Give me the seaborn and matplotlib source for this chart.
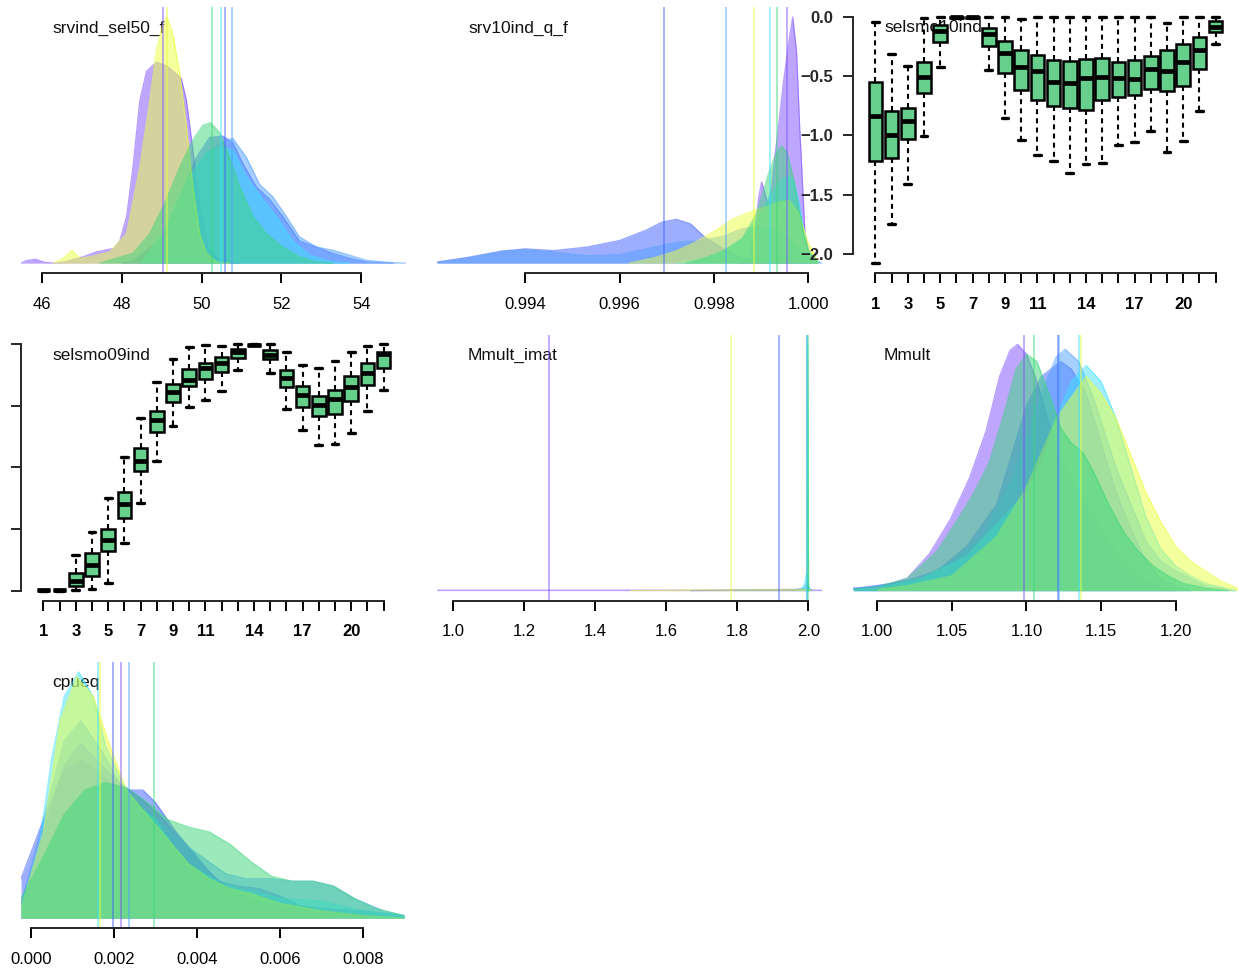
import matplotlib
matplotlib.use("Agg")
import matplotlib.pyplot as plt
import numpy as np
import pandas as pd
import seaborn as sns

sns.set_style("ticks")
plt.rcParams["font.family"] = ["Liberation Sans", "DejaVu Sans"]

# ---------------------------------------------------------------- series
SERIES = ["m1", "m2", "m3", "m4", "m5", "m6"]
DRAW_ORDER = ["m1", "m2", "m3", "m4", "m6", "m5"]
COLORS = {
    "m1": "#7f4fff",   # purple
    "m2": "#3f5fff",   # blue
    "m3": "#50a0ff",   # light blue
    "m4": "#40e0ff",   # cyan
    "m5": "#3ad67a",   # green
    "m6": "#ebff3c",   # yellow
}
BOX_FILL = "#66cf8c"

# ---------------------------------------------------------------- srvind_sel50_f
SEL50 = {
    "m1": ([45.47, 45.6, 45.83, 46.05, 46.3, 46.6, 47.03, 47.37, 47.8, 47.95, 48.12, 48.28, 48.45, 48.62,
            48.87, 49.12, 49.28, 49.49, 49.62, 49.78, 49.95, 50.16, 50.37, 50.7, 50.95],
           [0.0, 0.01, 0.016, 0.004, 0.0, 0.006, 0.026, 0.046, 0.06, 0.09, 0.19, 0.39, 0.66, 0.78,
            0.816, 0.80, 0.78, 0.75, 0.66, 0.46, 0.23, 0.066, 0.02, 0.012, 0.0]),
    "m2": ([48.0, 48.28, 48.95, 49.45, 49.87, 50.2, 50.53, 50.78, 51.03, 51.37, 51.7, 52.03, 52.45,
            52.87, 53.28, 53.7, 54.12, 54.8],
           [0.0, 0.01, 0.09, 0.26, 0.43, 0.51, 0.516, 0.49, 0.405, 0.31, 0.26, 0.19, 0.09,
            0.066, 0.04, 0.02, 0.005, 0.0]),
    "m3": ([48.4, 49.12, 49.62, 50.12, 50.62, 50.78, 51.12, 51.45, 51.78, 52.12, 52.45, 52.87, 53.28,
            53.7, 54.12, 54.7, 55.12],
           [0.0, 0.12, 0.31, 0.45, 0.5, 0.507, 0.43, 0.32, 0.27, 0.19, 0.107, 0.066, 0.053,
            0.033, 0.012, 0.003, 0.0]),
    "m4": ([48.5, 49.12, 49.62, 50.12, 50.45, 50.78, 51.12, 51.53, 51.87, 52.28, 52.7, 53.28, 53.7],
           [0.0, 0.15, 0.34, 0.45, 0.47, 0.46, 0.35, 0.26, 0.19, 0.09, 0.033, 0.005, 0.0]),
    "m5": ([47.45, 48.28, 48.7, 49.12, 49.45, 49.78, 50.03, 50.22, 50.45, 50.7, 50.95, 51.28, 51.62,
            52.03, 52.45, 52.87, 53.3],
           [0.0, 0.04, 0.12, 0.26, 0.39, 0.5, 0.56, 0.57, 0.53, 0.43, 0.31, 0.19, 0.12,
            0.066, 0.026, 0.005, 0.0]),
    "m6": ([46.28, 46.53, 46.74, 46.95, 47.2, 47.7, 48.12, 48.45, 48.7, 48.87, 49.03, 49.13, 49.28,
            49.45, 49.62, 49.78, 49.95, 50.12, 50.37, 50.7],
           [0.0, 0.02, 0.053, 0.02, 0.026, 0.046, 0.12, 0.39, 0.66, 0.87, 0.97, 1.0, 0.93,
            0.77, 0.55, 0.31, 0.12, 0.04, 0.005, 0.0]),
}
SEL50_MED = {"m1": 49.04, "m2": 50.59, "m3": 50.75, "m4": 50.49, "m5": 50.25, "m6": 49.14}

# ---------------------------------------------------------------- srv10ind_q_f
Q10 = {
    "m1": ([0.9985, 0.99875, 0.99888, 0.99895, 0.99901, 0.99907, 0.99914, 0.99922, 0.9993, 0.99936,
            0.99947, 0.99958, 0.99967, 0.99975, 0.99982, 0.99986, 0.99993, 1.00004, 1.0002],
           [0.0, 0.03, 0.14, 0.27, 0.33, 0.29, 0.24, 0.3, 0.45, 0.54,
            0.73, 0.89, 1.0, 0.86, 0.54, 0.39, 0.12, 0.02, 0.0]),
    "m2": ([0.99213, 0.9928, 0.9935, 0.994, 0.9946, 0.9953, 0.996, 0.99655, 0.9969, 0.9972, 0.9975,
            0.9978, 0.9982, 0.99855, 0.999, 0.9995, 1.0],
           [0.004, 0.024, 0.049, 0.058, 0.051, 0.065, 0.092, 0.133, 0.167, 0.178, 0.16,
            0.106, 0.058, 0.024, 0.01, 0.003, 0.0]),
    "m3": ([0.99213, 0.9928, 0.9935, 0.994, 0.9946, 0.9953, 0.996, 0.9966, 0.9972, 0.9977, 0.9982,
            0.9986, 0.999, 0.9994, 0.9997, 1.0, 1.0003],
           [0.004, 0.022, 0.047, 0.055, 0.045, 0.03, 0.035, 0.06, 0.085, 0.09, 0.11,
            0.14, 0.15, 0.13, 0.08, 0.02, 0.0]),
    "m4": ([0.9972, 0.9978, 0.9982, 0.9986, 0.9989, 0.9992, 0.99945, 0.99958, 0.9997, 0.9998, 0.9999,
            1.0, 1.0002],
           [0.0, 0.02, 0.05, 0.1, 0.17, 0.28, 0.34, 0.356, 0.33, 0.25, 0.14, 0.05, 0.005]),
    "m5": ([0.9974, 0.9978, 0.9982, 0.9986, 0.9989, 0.99915, 0.9993, 0.99943, 0.99955, 0.9997, 0.9998,
            0.9999, 1.0, 1.0002],
           [0.0, 0.02, 0.05, 0.1, 0.2, 0.36, 0.44, 0.476, 0.45, 0.33, 0.22, 0.12, 0.05, 0.005]),
    "m6": ([0.9962, 0.9967, 0.9972, 0.9976, 0.998, 0.9984, 0.9988, 0.9991, 0.9994, 0.9996, 0.9998,
            1.0, 1.0002],
           [0.0, 0.02, 0.05, 0.085, 0.13, 0.18, 0.21, 0.23, 0.25, 0.255, 0.2, 0.08, 0.01]),
}
Q10_MED = {"m1": 0.99954, "m2": 0.99695, "m3": 0.99825, "m4": 0.99919, "m5": 0.99933, "m6": 0.99885}

# ---------------------------------------------------------------- Mmult_imat
IMAT = {
    "m1": ([0.954, 1.2, 1.5, 1.8, 2.0, 2.0386], [0.002, 0.002, 0.002, 0.002, 0.003, 0.001]),
    "m2": ([1.67, 1.8, 1.95, 2.0, 2.01], [0.0, 0.003, 0.005, 0.006, 0.0]),
    "m3": ([1.95, 1.985, 1.997, 2.003, 2.01], [0.0, 0.01, 0.03, 0.01, 0.0]),
    "m4": ([1.98, 1.99, 1.995, 2.0, 2.005], [0.0, 0.03, 0.07, 0.02, 0.0]),
    "m5": ([1.996, 1.9985, 2.001], [0.0, 1.0, 0.0]),
    "m6": ([1.5, 1.7, 1.9, 2.0, 2.01], [0.0, 0.003, 0.004, 0.005, 0.0]),
}
IMAT_MED = {"m1": 1.2685, "m2": 1.917, "m3": 1.997, "m4": 1.9955, "m5": 1.9985, "m6": 1.782}

# ---------------------------------------------------------------- Mmult
MMULT = {
    "m1": ([0.984, 1.002, 1.02, 1.035, 1.049, 1.062, 1.073, 1.082, 1.089, 1.094, 1.1, 1.107, 1.114,
            1.122, 1.13, 1.14, 1.15, 1.16, 1.17, 1.18, 1.19, 1.2],
           [0.01, 0.016, 0.05, 0.15, 0.29, 0.46, 0.65, 0.87, 0.976, 1.0, 0.96, 0.85, 0.7,
            0.55, 0.45, 0.35, 0.25, 0.15, 0.08, 0.04, 0.015, 0.0]),
    "m2": ([0.984, 1.02, 1.04, 1.06, 1.08, 1.09, 1.1, 1.11, 1.123, 1.13, 1.14, 1.15, 1.16, 1.17,
            1.18, 1.19, 1.2, 1.21],
           [0.005, 0.04, 0.08, 0.18, 0.35, 0.55, 0.75, 0.87, 0.93, 0.9, 0.8, 0.6, 0.4, 0.25,
            0.12, 0.05, 0.02, 0.0]),
    "m3": ([0.984, 1.0, 1.03, 1.05, 1.07, 1.09, 1.1, 1.11, 1.12, 1.126, 1.135, 1.145, 1.16, 1.17,
            1.18, 1.19, 1.2, 1.22, 1.24],
           [0.01, 0.02, 0.05, 0.12, 0.22, 0.45, 0.62, 0.8, 0.95, 0.98, 0.93, 0.78, 0.5, 0.35,
            0.2, 0.12, 0.08, 0.02, 0.0]),
    "m4": ([0.984, 1.0, 1.03, 1.06, 1.08, 1.1, 1.11, 1.12, 1.13, 1.14, 1.15, 1.16, 1.17, 1.18,
            1.19, 1.2, 1.21, 1.22, 1.24],
           [0.005, 0.01, 0.05, 0.14, 0.27, 0.4, 0.52, 0.7, 0.85, 0.915, 0.85, 0.7, 0.5, 0.3,
            0.17, 0.1, 0.06, 0.03, 0.0]),
    "m5": ([0.984, 1.0, 1.02, 1.04, 1.055, 1.065, 1.075, 1.085, 1.093, 1.1, 1.107, 1.115, 1.123,
            1.13, 1.138, 1.146, 1.155, 1.165, 1.175, 1.185, 1.195, 1.205, 1.22, 1.235],
           [0.005, 0.015, 0.05, 0.16, 0.3, 0.4, 0.52, 0.72, 0.9, 0.96, 0.93, 0.8, 0.66,
            0.6, 0.56, 0.47, 0.35, 0.24, 0.16, 0.1, 0.06, 0.03, 0.01, 0.0]),
    "m6": ([1.0, 1.02, 1.05, 1.08, 1.1, 1.12, 1.14, 1.15, 1.16, 1.17, 1.18, 1.19, 1.2, 1.21,
            1.22, 1.23, 1.2418],
           [0.005, 0.02, 0.06, 0.22, 0.42, 0.7, 0.87, 0.8, 0.7, 0.55, 0.4, 0.28, 0.18, 0.12,
            0.08, 0.04, 0.01]),
}
MMULT_MED = {"m1": 1.0983, "m2": 1.1209, "m3": 1.1215, "m4": 1.135, "m5": 1.105, "m6": 1.1363}

# ---------------------------------------------------------------- cpueq
CPUEQ = {
    "m1": ([-0.00024, 0.0003, 0.0008, 0.0012, 0.0017, 0.0022, 0.0027, 0.0032, 0.0037, 0.0042,
            0.0047, 0.0052, 0.006, 0.007, 0.008, 0.009],
           [0.06, 0.35, 0.62, 0.71, 0.62, 0.54, 0.48, 0.4, 0.3, 0.2, 0.13, 0.08, 0.05, 0.03, 0.01, 0.0]),
    "m2": ([-0.00024, 0.0003, 0.0008, 0.0012, 0.0017, 0.0022, 0.0027, 0.003, 0.0035, 0.004, 0.0045,
            0.005, 0.0055, 0.006, 0.0065, 0.007, 0.008, 0.009],
           [0.16, 0.4, 0.6, 0.64, 0.58, 0.52, 0.52, 0.47, 0.35, 0.25, 0.15, 0.13, 0.12, 0.09, 0.05,
            0.04, 0.03, 0.01]),
    "m3": ([-0.00024, 0.0003, 0.0008, 0.0012, 0.0017, 0.0022, 0.0027, 0.0032, 0.0037, 0.0042,
            0.0047, 0.0052, 0.0058, 0.0063, 0.0068, 0.0073, 0.0078, 0.0085, 0.009],
           [0.05, 0.4, 0.72, 0.8, 0.68, 0.53, 0.45, 0.38, 0.3, 0.24, 0.18, 0.16, 0.16, 0.15, 0.15,
            0.13, 0.08, 0.03, 0.01]),
    "m4": ([-0.00024, 0.0002, 0.0005, 0.0008, 0.00115, 0.0015, 0.0018, 0.0022, 0.0026, 0.003,
            0.0034, 0.0038, 0.0042, 0.0046, 0.005, 0.0055, 0.006, 0.007, 0.008, 0.009],
           [0.05, 0.3, 0.65, 0.9, 1.0, 0.9, 0.7, 0.55, 0.45, 0.4, 0.3, 0.22, 0.18, 0.14, 0.12, 0.1,
            0.08, 0.07, 0.03, 0.01]),
    "m5": ([-0.00024, 0.0003, 0.0008, 0.0013, 0.0018, 0.0023, 0.0028, 0.0033, 0.0038, 0.0043,
            0.0048, 0.0053, 0.0058, 0.0063, 0.0068, 0.0073, 0.0078, 0.0083, 0.009],
           [0.08, 0.25, 0.42, 0.52, 0.55, 0.53, 0.47, 0.4, 0.37, 0.35, 0.3, 0.23, 0.17, 0.15, 0.15,
            0.13, 0.08, 0.04, 0.01]),
    "m6": ([-0.00024, 0.0003, 0.0007, 0.0011, 0.0015, 0.0019, 0.0023, 0.0028, 0.0033, 0.0038,
            0.0043, 0.0048, 0.0053, 0.006, 0.007, 0.008, 0.009],
           [0.04, 0.35, 0.8, 0.98, 0.9, 0.7, 0.52, 0.42, 0.32, 0.22, 0.16, 0.12, 0.1, 0.06, 0.03,
            0.01, 0.0]),
}
CPUEQ_MED = {"m1": 0.002171, "m2": 0.001986, "m3": 0.002356, "m4": 0.001608, "m5": 0.002967,
             "m6": 0.001664}

# ---------------------------------------------------------------- selectivity boxplots (log scale)
AGES = [str(a) for a in range(1, 23)]
AGE_LABELS = ["1", "", "3", "", "5", "", "7", "", "9", "", "11", "", "", "14", "", "", "17", "", "",
              "20", "", ""]

SEL10_LO = [-2.079, -1.747, -1.41, -1.003, -0.427, -0.012, -0.012, -0.447, -0.854, -1.039, -1.163,
            -1.213, -1.317, -1.242, -1.236, -1.079, -1.059, -0.961, -1.143, -1.045, -0.792, -0.225]
SEL10_Q1 = [-1.213, -1.191, -1.031, -0.646, -0.216, -0.008, -0.008, -0.244, -0.478, -0.618, -0.7,
            -0.75, -0.77, -0.787, -0.702, -0.68, -0.66, -0.61, -0.624, -0.581, -0.441, -0.132]
SEL10_MED = [-0.834, -0.994, -0.882, -0.511, -0.118, -0.004, -0.004, -0.146, -0.309, -0.421, -0.455,
             -0.548, -0.556, -0.517, -0.506, -0.517, -0.525, -0.441, -0.455, -0.385, -0.281, -0.084]
SEL10_Q3 = [-0.553, -0.798, -0.772, -0.385, -0.067, -0.002, -0.002, -0.09, -0.208, -0.278, -0.32,
            -0.365, -0.376, -0.357, -0.351, -0.382, -0.362, -0.331, -0.281, -0.233, -0.169, -0.039]
SEL10_HI = [-0.04, -0.315, -0.413, -0.006, 0.0, 0.0, 0.0, 0.0, 0.0, -0.02, -0.005,
            -0.005, -0.005, -0.005, -0.005, -0.005, -0.005, -0.005, -0.053, 0.0, 0.0, 0.0]

SEL09_LO = [-2.0, -2.0, -1.995, -1.989, -1.94, -1.616, -1.286, -0.945, -0.663, -0.512, -0.452,
            -0.379, -0.208, -0.008, -0.23, -0.528, -0.696, -0.817, -0.812, -0.723, -0.539, -0.371]
SEL09_Q1 = [-1.998, -1.998, -1.962, -1.881, -1.675, -1.41, -1.026, -0.709, -0.468, -0.336, -0.279,
            -0.222, -0.108, -0.006, -0.122, -0.344, -0.506, -0.582, -0.566, -0.457, -0.333, -0.195]
SEL09_MED = [-1.996, -1.996, -1.919, -1.792, -1.589, -1.296, -0.95, -0.614, -0.384, -0.29, -0.195,
             -0.154, -0.06, -0.004, -0.089, -0.276, -0.411, -0.493, -0.447, -0.344, -0.235, -0.081]
SEL09_Q3 = [-1.994, -1.994, -1.859, -1.691, -1.497, -1.199, -0.842, -0.539, -0.322, -0.198, -0.149,
            -0.106, -0.035, -0.002, -0.046, -0.208, -0.338, -0.42, -0.371, -0.257, -0.154, -0.06]
SEL09_HI = [-1.992, -1.992, -1.711, -1.521, -1.245, -0.912, -0.601, -0.306, -0.119, -0.024, -0.005,
            -0.011, 0.0, 0.0, 0.0, -0.062, -0.168, -0.195, -0.133, -0.065, -0.011, 0.0]

LOG_TICKS = [-2.0, -1.5, -1.0, -0.5, 0.0]

# ---------------------------------------------------------------- layout
W, H = 1238, 974
fig = plt.figure(figsize=(W / 100, H / 100), dpi=100)
COL_X = [21, 437, 853]
PANEL_W, PANEL_H = 385, 266


def make_axes(col, row):
    top = 7 + 327.5 * row
    return fig.add_axes([COL_X[col] / W, 1 - (top + PANEL_H) / H, PANEL_W / W, PANEL_H / H])


def label_panel(ax, text):
    ax.text(31 / PANEL_W, 1 - 21 / PANEL_H, text, transform=ax.transAxes, ha="left", va="center",
            fontsize=12.5, color="#111111", zorder=0.5)


def style_bottom(ax, bold=False):
    ax.tick_params(axis="x", direction="out", length=7, width=1.4, pad=10, labelsize=12,
                   colors="black")
    for lab in ax.get_xticklabels():
        lab.set_fontweight("bold" if bold else "normal")
    ax.spines["bottom"].set_linewidth(1.4)


def density_panel(ax, curves, medians, xlim, ticks, fmt, title):
    top = max(max(h) for _, h in curves.values())
    for name in DRAW_ORDER:
        xs, hs = curves[name]
        ax.fill_between(xs, 0, hs, color=COLORS[name], alpha=0.5, lw=0, zorder=1)
        ax.plot(xs, hs, color=COLORS[name], alpha=0.55, lw=0.9, zorder=1)
    for name in SERIES:
        ax.axvline(medians[name], color=COLORS[name], alpha=0.55, lw=1.2, zorder=2)
    ax.set_xlim(*xlim)
    ax.set_ylim(-0.04 * top, 1.04 * top)
    ax.set_xticks(ticks)
    ax.set_xticklabels([fmt.format(t) for t in ticks])
    ax.set_yticks([])
    for side in ("left", "top", "right"):
        ax.spines[side].set_visible(False)
    ax.spines["bottom"].set_bounds(ticks[0], ticks[-1])
    style_bottom(ax)
    label_panel(ax, title)


def box_panel(ax, lo, q1, med, q3, hi, title, show_ylabels=True):
    rows = []
    for i, age in enumerate(AGES):
        for v in (lo[i], q1[i], med[i], q3[i], hi[i]):
            rows.append({"age": age, "value": v})
    df = pd.DataFrame(rows)
    label_panel(ax, title)
    sns.boxplot(data=df, x="age", y="value", order=AGES, color=BOX_FILL, saturation=1,
                width=0.84, whis=(0, 100), linecolor="black", linewidth=1.8,
                showfliers=False, ax=ax,
                medianprops=dict(linewidth=3.4, color="black"),
                whiskerprops=dict(linestyle=(0, (2.4, 2.0)), linewidth=1.5, color="black"),
                capprops=dict(linewidth=2.4, color="black"))
    data_lo = min(lo)
    pad = 0.04 * (0 - data_lo)
    ax.set_ylim(data_lo - pad, 0 + pad)
    ax.set_xlim(-1.38, 22.38)
    ax.set_xticks(range(len(AGES)))
    ax.set_xticklabels(AGE_LABELS)
    ax.set_yticks(LOG_TICKS)
    if show_ylabels:
        ax.set_yticklabels(["{:.1f}".format(t).replace("-", "\u2212") for t in LOG_TICKS])
    else:
        ax.set_yticklabels([])
    ax.set_xlabel("")
    ax.set_ylabel("")
    for side in ("top", "right"):
        ax.spines[side].set_visible(False)
    ax.spines["bottom"].set_bounds(0, len(AGES) - 1)
    ax.spines["left"].set_bounds(LOG_TICKS[0], LOG_TICKS[-1])
    ax.spines["left"].set_linewidth(1.4)
    ax.tick_params(axis="y", direction="out", length=7, width=1.4, pad=7, labelsize=12)
    for lab in ax.get_yticklabels():
        lab.set_fontweight("bold")
    style_bottom(ax, bold=True)


ax1 = make_axes(0, 0)
density_panel(ax1, SEL50, SEL50_MED, (45.474, 55.12), [46, 48, 50, 52, 54], "{:d}", "srvind_sel50_f")

ax2 = make_axes(1, 0)
density_panel(ax2, Q10, Q10_MED, (0.992128, 1.00029), [0.994, 0.996, 0.998, 1.000], "{:.3f}",
              "srv10ind_q_f")

ax3 = make_axes(2, 0)
box_panel(ax3, SEL10_LO, SEL10_Q1, SEL10_MED, SEL10_Q3, SEL10_HI, "selsmo10ind")

ax4 = make_axes(0, 1)
box_panel(ax4, SEL09_LO, SEL09_Q1, SEL09_MED, SEL09_Q3, SEL09_HI, "selsmo09ind", show_ylabels=False)

ax5 = make_axes(1, 1)
density_panel(ax5, IMAT, IMAT_MED, (0.9541, 2.0386), [1.0, 1.2, 1.4, 1.6, 1.8, 2.0], "{:.1f}",
              "Mmult_imat")

ax6 = make_axes(2, 1)
density_panel(ax6, MMULT, MMULT_MED, (0.98371, 1.2418), [1.00, 1.05, 1.10, 1.15, 1.20], "{:.2f}",
              "Mmult")

ax7 = make_axes(0, 2)
density_panel(ax7, CPUEQ, CPUEQ_MED, (-0.000241, 0.009046), [0.0, 0.002, 0.004, 0.006, 0.008],
              "{:.3f}", "cpueq")

fig.savefig("out.png", dpi=100, facecolor="white")
